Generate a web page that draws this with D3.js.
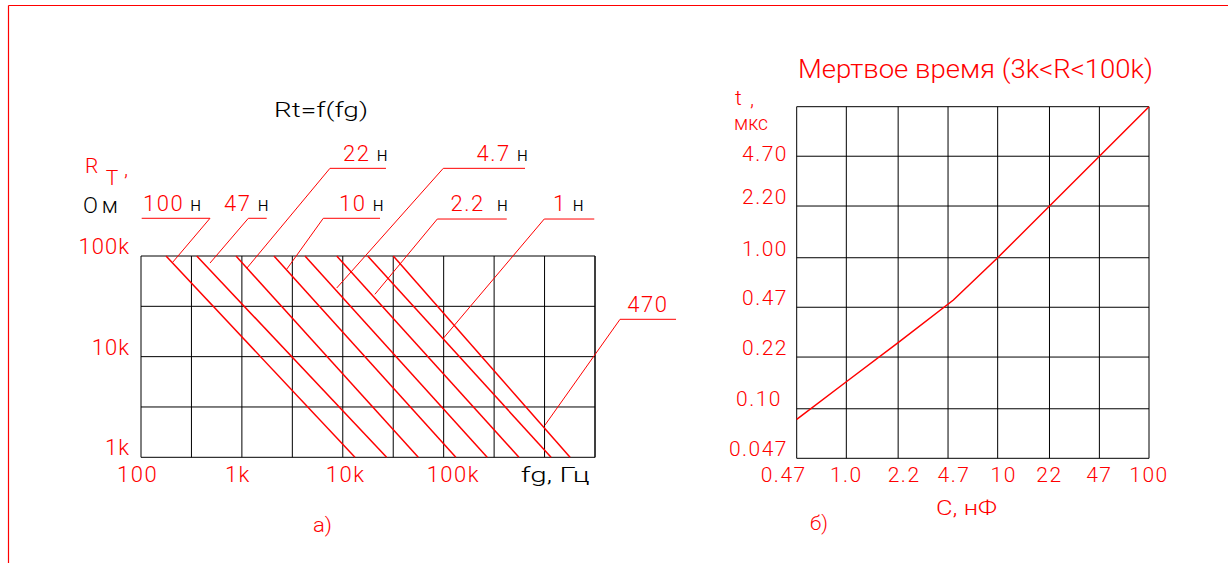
<!DOCTYPE html>
<html>
<head>
<meta charset="utf-8">
<script src="https://cdn.jsdelivr.net/npm/d3@7"></script>
<style>
  html, body { margin: 0; padding: 0; background: #fff; }
  svg { display: block; }
  text { font-family: Roboto, "DejaVu Sans", sans-serif; font-weight: 300; }
</style>
</head>
<body>
<svg id="chart" width="1228" height="563"></svg>
<script>
// ---------------- DATA ----------------
// Left chart: Rt = f(fg)
const fTickValues = [100, 1000, 10000, 100000];
const fTickLabels = ["100", "1k", "10k", "100k"];
const rTickValues = [1000, 10000, 100000];
const rTickLabels = ["1k", "10k", "100k"];
const fGrid = [100, 316.2, 1000, 3162, 10000, 31623, 100000, 316228, 1000000, 3162278];
const rGrid = [1000, 3162, 10000, 31623, 100000];

const capLabels = ["100", "47", "22", "10", "4.7", "2.2", "1", "470"];
const capUnits  = ["н", "н", "н", "н", "н", "н", "н", ""];
// frequency where each line meets R = 100k and R = 1k
const fAtR100k = [177, 357, 874, 2080, 4220, 8710, 17650, 31700];
const fAtR1k   = [13200, 27200, 56000, 132000, 270000, 557000, 1160000, 1790000];
const rTop = 100000, rBottom = 1000;

// leader annotations, in data units (f, R)
const leaderTipF   = [205, 483, 1117, 2780, 8710, 20800, 99100, 1010000];
const leaderTipR   = [86100, 85100, 75500, 73800, 48100, 41600, 15200, 2090];
const leaderElbowF = [483, 1159, 7460, 6410, 99100, 86500, 993000, 5600000];
const leaderElbowR = [237000, 237000, 743000, 237000, 743000, 233000, 233000, 23500];
const leaderShelfF = [101.6, 1762, 26800, 23400, 640000, 422000, 3110000, 20100000];
const labelF       = [104.7, 665, 10050, 9180, 212000, 117000, 1210000, 6600000];
const labelR       = [280000, 280000, 879000, 280000, 879000, 280000, 280000, 28000];

// Right chart: dead time vs C
const cTickValues = [0.47, 1.0, 2.2, 4.7, 10, 22, 47, 100];
const cTickLabels = ["0.47", "1.0", "2.2", "4.7", "10", "22", "47", "100"];
const tTickValues = [0.047, 0.10, 0.22, 0.47, 1.0, 2.2, 4.7, 10];
const tTickLabels = ["0.047", "0.10", "0.22", "0.47", "1.00", "2.20", "4.70", ""];
const curveC = [0.47, 1.0, 2.2, 5.1, 10, 100];
const curveT = [0.085, 0.151, 0.274, 0.525, 1.0, 10];

// ---------------- DRAWING ----------------
const RED = "#ff0000";
const svg = d3.select("#chart");

// outer frame (top + left red lines)
svg.append("line").attr("x1", 8.5).attr("y1", 5.5).attr("x2", 1228).attr("y2", 5.5)
  .attr("stroke", RED).attr("stroke-width", 1.2);
svg.append("line").attr("x1", 8.5).attr("y1", 5.5).attr("x2", 8.5).attr("y2", 563)
  .attr("stroke", RED).attr("stroke-width", 1.2);

function txt(g, x, y, s, opts = {}) {
  const t = g.append("text").attr("x", x).attr("y", y).text(s)
    .attr("fill", opts.fill || RED)
    .attr("font-size", opts.size || 21)
    .attr("text-anchor", opts.anchor || "start");
  if (opts.len) t.attr("textLength", opts.len).attr("lengthAdjust", "spacingAndGlyphs");
  return t;
}

// ===== Left chart =====
const xL = d3.scaleLog().domain([100, Math.pow(10, 6.5)]).range([141, 595]);
const yL = d3.scaleLog().domain([1000, 100000]).range([457.3, 256]);
const gL = svg.append("g");

gL.selectAll("line.vg").data(fGrid).join("line").attr("class", "vg")
  .attr("x1", d => xL(d)).attr("x2", d => xL(d))
  .attr("y1", yL(100000)).attr("y2", yL(1000))
  .attr("stroke", "#000").attr("stroke-width", 1);
gL.append("line").attr("x1", xL.range()[1]).attr("x2", xL.range()[1])
  .attr("y1", yL(100000)).attr("y2", yL(1000)).attr("stroke", "#000");
gL.selectAll("line.hg").data(rGrid).join("line").attr("class", "hg")
  .attr("y1", d => yL(d)).attr("y2", d => yL(d))
  .attr("x1", xL.range()[0]).attr("x2", xL.range()[1])
  .attr("stroke", "#000").attr("stroke-width", 1);

// diagonal lines
gL.selectAll("line.cap").data(capLabels).join("line").attr("class", "cap")
  .attr("x1", (d, i) => xL(fAtR100k[i])).attr("y1", yL(rTop))
  .attr("x2", (d, i) => xL(fAtR1k[i])).attr("y2", yL(rBottom))
  .attr("stroke", RED).attr("stroke-width", 1.5);

// leaders
capLabels.forEach((c, i) => {
  const p = d3.path();
  p.moveTo(xL(leaderTipF[i]), yL(leaderTipR[i]));
  p.lineTo(xL(leaderElbowF[i]), yL(leaderElbowR[i]));
  p.lineTo(xL(leaderShelfF[i]), yL(leaderElbowR[i]));
  gL.append("path").attr("d", p.toString()).attr("fill", "none")
    .attr("stroke", RED).attr("stroke-width", 1);
  const t = gL.append("text").attr("x", xL(labelF[i])).attr("y", yL(labelR[i]))
    .attr("font-size", 22);
  t.append("tspan").attr("fill", RED).attr("letter-spacing", 1.5).text(c);
  if (capUnits[i]) t.append("tspan").attr("fill", "#000").attr("dx", c === "2.2" ? 12 : 6)
    .attr("font-size", 20).text(capUnits[i]);
});

// tick labels
fTickValues.forEach((v, i) => {
  txt(gL, xL(v) - (i === 0 ? 24 : 17), 481.7, fTickLabels[i], { size: 22, fill: RED })
    .attr("letter-spacing", 1.5);
});
rTickValues.forEach((v, i) => {
  txt(gL, xL.range()[0] - 11, yL(v) - 2, rTickLabels[i], { size: 22, anchor: "end" })
    .attr("letter-spacing", 1);
});

txt(gL, 520.7, 481.5, "fg, Гц", { fill: "#000", size: 21, len: 69 });
txt(gL, 313, 532, "а)", { size: 20, len: 19 });
txt(gL, 274, 116.7, "Rt=f(fg)", { fill: "#000", size: 21, len: 94 });
txt(gL, 85, 173.3, "R", { size: 21 });
txt(gL, 105.7, 185, "T", { size: 21 });
txt(gL, 124, 176, ",", { size: 21 });
txt(gL, 83, 213.3, "О", { fill: "#000", size: 22 });
txt(gL, 101.7, 213.3, "м", { fill: "#000", size: 22 });

// ===== Right chart =====
const xR = d3.scaleLog().domain([0.47, 100]).range([796.7, 1149]);
const yR = d3.scaleLog().domain([0.047, 10]).range([458.3, 106.7]);
const gR = svg.append("g");

gR.selectAll("line.vg").data(cTickValues).join("line").attr("class", "vg")
  .attr("x1", d => xR(d)).attr("x2", d => xR(d))
  .attr("y1", yR(10)).attr("y2", yR(0.047))
  .attr("stroke", "#000").attr("stroke-width", 1);
gR.selectAll("line.hg").data(tTickValues).join("line").attr("class", "hg")
  .attr("y1", d => yR(d)).attr("y2", d => yR(d))
  .attr("x1", xR(0.47)).attr("x2", xR(100))
  .attr("stroke", "#000").attr("stroke-width", 1);

const line = d3.line().x(d => xR(d[0])).y(d => yR(d[1]));
gR.append("path").attr("d", line(curveC.map((c, i) => [c, curveT[i]])))
  .attr("fill", "none").attr("stroke", RED).attr("stroke-width", 1.5);

const xShift = { "0.47": -13, "2.2": 6, "4.7": 6, "10": 6 };
cTickValues.forEach((v, i) => {
  txt(gR, xR(v) + (xShift[cTickLabels[i]] || 0), 481.7, cTickLabels[i], { size: 21, anchor: "middle" })
    .attr("letter-spacing", 1.5);
});
const yShift = { "4.70": 7, "0.10": -1 };
const yxShift = { "0.10": -6 };
tTickValues.forEach((v, i) => {
  if (!tTickLabels[i]) return;
  txt(gR, 788 + (yxShift[tTickLabels[i]] || 0), yR(v) - 2 + (yShift[tTickLabels[i]] || 0), tTickLabels[i], { size: 21, anchor: "end" })
    .attr("letter-spacing", 1.5);
});

txt(gR, 798, 78.3, "Мертвое время (3k<R<100k)", { size: 25, len: 355 });
txt(gR, 735, 105, "t", { size: 21 });
txt(gR, 750, 106, ",", { size: 21 });
txt(gR, 734, 130, "мкс", { size: 21, len: 34 });
txt(gR, 936, 515, "С, нФ", { size: 21, len: 61 });
txt(gR, 810, 530, "б)", { size: 20, len: 18 });
</script>
</body>
</html>
